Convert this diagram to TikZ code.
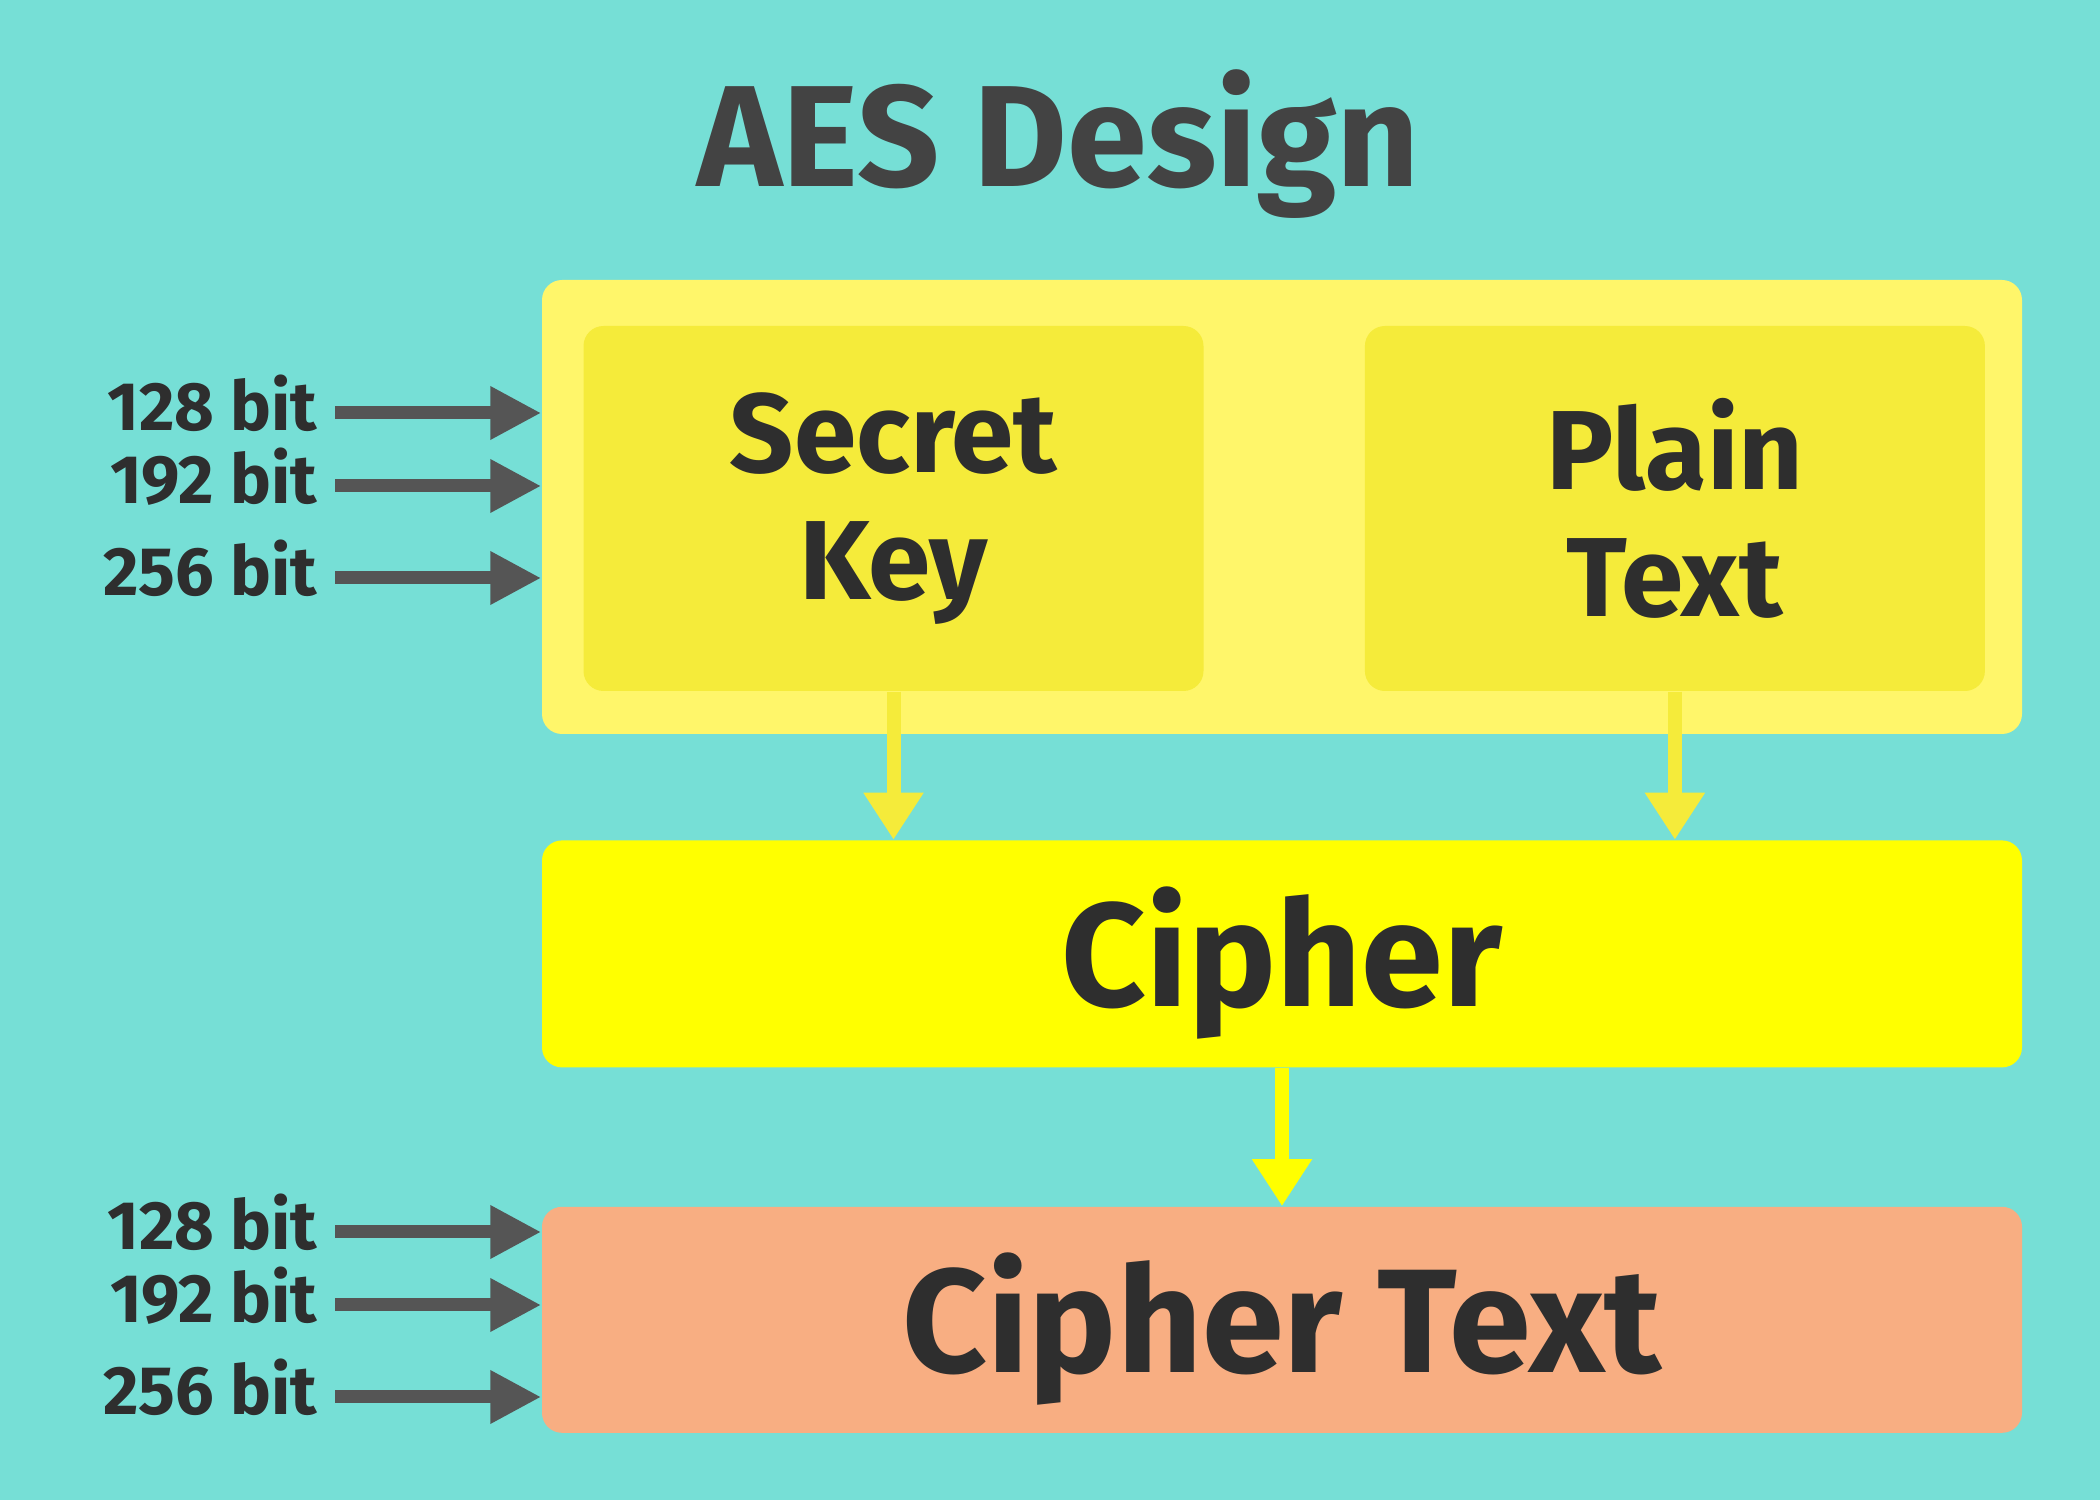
\documentclass[tikz,border=0pt]{standalone}
\usepackage{fontspec}
\setmainfont{Fira Sans}
\usepackage{tikz}
\usetikzlibrary{arrows.meta, positioning}
\definecolor{aqua}{HTML}{76DFD6}
\definecolor{paleyel}{HTML}{FFF66A}
\definecolor{midyel}{HTML}{F5EB3A}
\definecolor{fullyel}{HTML}{FFFF00}
\definecolor{peach}{HTML}{F8AE82}
\definecolor{ink}{HTML}{2E2E2E}
\definecolor{arrowgray}{HTML}{555555}
\tikzstyle{outerbox} = [rectangle, rounded corners=0.2cm, minimum width=14.8cm, minimum height=4.54cm, inner sep=0pt, fill=paleyel]
\tikzstyle{inbox} = [rectangle, rounded corners=0.2cm, minimum width=6.2cm, minimum height=3.65cm, inner sep=0pt, text width=5.8cm, text centered, fill=midyel, text=ink, font=\bfseries\fontsize{32}{36}\selectfont]
\tikzstyle{widebox} = [rectangle, rounded corners=0.2cm, minimum width=14.8cm, minimum height=2.26cm, inner sep=0pt, text height=30pt, text depth=0pt, text=ink, font=\bfseries\fontsize{42}{46}\selectfont]
\tikzstyle{bitlabel} = [anchor=east, inner sep=0pt, text height=10pt, text depth=0pt, text=ink, font=\bfseries\fontsize{19.5}{22}\selectfont]
\tikzstyle{grayarrow} = [line width=0.13cm, draw=arrowgray, -{Triangle[length=0.51cm, width=0.5cm]}]
\tikzstyle{yelarrow} = [line width=0.14cm, -{Triangle[length=0.47cm, width=0.57cm]}]

\begin{document}
\begin{tikzpicture}
	\fill[aqua] (0,0) rectangle (21,15);
	\useasboundingbox (0,0) rectangle (21,15);
	\node (title) [anchor=base, text=ink!90, font=\bfseries\fontsize{41}{45}\selectfont] at (10.59,13.13) {AES Design};
	\node (outer) [outerbox] at (12.82,9.93) {};
	\node (secret) [inbox] at (8.935,9.915) {Secret\\Key};
	\node (plain) [inbox, right=1.6cm of secret] {Plain\\Text};
	\node (cipher) [widebox, fill=fullyel, minimum height=2.27cm, below=1.05cm of outer] {Cipher};
	\node (ctext) [widebox, fill=peach, below=1.38cm of cipher] {Cipher Text};
	\draw [yelarrow, draw=midyel] (secret.south) -- (secret.south |- cipher.north);
	\draw [yelarrow, draw=midyel] (plain.south) -- (plain.south |- cipher.north);
	\draw [yelarrow, draw=fullyel] (cipher.south) -- (ctext.north);
	% key sizes
	\foreach \bits/\yy [count=\i] in {128/10.87, 192/10.14, 256/9.22} {
		\node (keybits\i) [bitlabel] at (3.18,\yy) {\bits\ bit};
		\draw [grayarrow] ([xshift=0.17cm]keybits\i.east) -- (outer.west |- keybits\i.east);
	}
	\foreach \bits/\yy [count=\i] in {128/2.68, 192/1.95, 256/1.03} {
		\node (outbits\i) [bitlabel] at (3.18,\yy) {\bits\ bit};
		\draw [grayarrow] ([xshift=0.17cm]outbits\i.east) -- (ctext.west |- outbits\i.east);
	}
\end{tikzpicture}
\end{document}
